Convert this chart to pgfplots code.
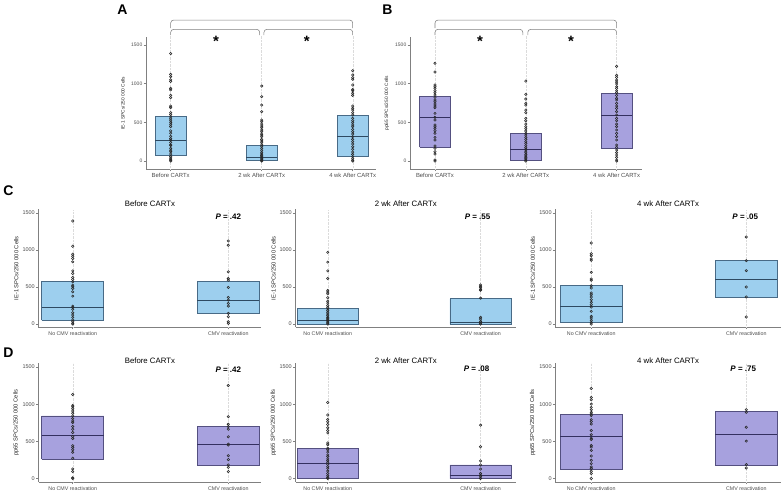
\documentclass[border=0pt]{standalone}
\usepackage{fontspec}
\setmainfont{Liberation Sans}
\usepackage{pgfplots}
\pgfplotsset{compat=1.18}

\definecolor{bfill}{RGB}{157,207,238}
\definecolor{bdraw}{RGB}{72,106,134}
\definecolor{bmed}{RGB}{46,74,98}
\definecolor{pfill}{RGB}{167,161,222}
\definecolor{pdraw}{RGB}{84,80,128}
\definecolor{pmed}{RGB}{52,48,96}
\definecolor{axgray}{RGB}{128,128,128}
\definecolor{ticktext}{RGB}{77,77,77}
\definecolor{ptcol}{RGB}{40,40,40}

\tikzset{guide/.style={densely dotted, gray!28, line width=0.4pt}}

\pgfplotsset{
  panel/.style={
    scale only axis, clip=false,
    axis lines*=left,
    axis line style={axgray, line width=0.7pt},
    tick align=outside, major tick length=2.5pt,
    tick style={axgray, line width=0.6pt},
    ytick={0,500,1000,1500},
    /pgf/number format/1000 sep={},
    /pgf/number format/assume math mode=true,
    every axis y label/.style={at={(axis description cs:-0.1,0.5)}, rotate=90, anchor=center},
  },
  toprow/.style={panel,
    width=#1, height=131.7pt, ymin=-103, ymax=1600,
    xtick={0,1,2},
    xticklabels={Before CARTx, 2 wk After CARTx, 4 wk After CARTx},
    yticklabel style={font=\fontsize{5}{6}\selectfont, text=ticktext, inner sep=1pt},
    xticklabel style={font=\fontsize{5.9}{7}\selectfont, text=ticktext, inner sep=1.5pt},
    ylabel style={font=\fontsize{4.8}{6}\selectfont, text=black!85},
  },
  subrow/.style={panel,
    xtick={0,1},
    xticklabels={No CMV reactivation, CMV reactivation},
    yticklabel style={font=\fontsize{5.5}{6.5}\selectfont, text=ticktext, inner sep=1pt},
    xticklabel style={font=\fontsize{5.3}{7}\selectfont, text=ticktext, inner sep=1.5pt},
    ylabel style={font=\fontsize{5.8}{7}\selectfont, text=black!85},
  },
  rowC/.style={subrow, height=117.5pt, ymin=-40, ymax=1547},
  rowD/.style={subrow, height=119pt, ymin=-47, ymax=1554},
  col1/.style={width=222.8pt, xmin=-0.22, xmax=1.212},
  col2/.style={width=220.5pt, xmin=-0.211, xmax=1.232},
  col3/.style={width=225.7pt, xmin=-0.232, xmax=1.224},
  bbox/.style={fill=bfill, draw=bdraw, line width=0.75pt, mark=none},
  bmedl/.style={draw=bmed, line width=0.9pt, mark=none},
  pbox/.style={fill=pfill, draw=pdraw, line width=0.75pt, mark=none},
  pmedl/.style={draw=pmed, line width=0.9pt, mark=none},
  pts/.style={only marks, mark=o, mark size=1.2pt, mark options={draw=ptcol, line width=0.55pt}},
}

\newcommand{\ptitle}{\fontsize{7.8}{9}\selectfont}
\newcommand{\pfont}{\fontsize{8}{9}\selectfont\bfseries}
\newcommand{\letterfont}{\fontsize{14}{14}\selectfont\bfseries}
\newcommand{\starfont}{\fontsize{15}{15}\selectfont\bfseries}

\begin{document}
\begin{tikzpicture}
\path[use as bounding box] (0,0) rectangle (782pt,492pt);

% ---------------- Panel A ----------------
\begin{axis}[toprow=230pt, at={(146pt,323pt)}, anchor=south west,
  xmin=-0.271, xmax=2.256, ylabel={IE-1 SPCs/250 000 Cells}]
\draw[guide] (axis cs:0,-103) -- (axis cs:0,1629);
\draw[guide] (axis cs:1,-103) -- (axis cs:1,1629);
\draw[guide] (axis cs:2,-103) -- (axis cs:2,1629);
\addplot[bbox] coordinates {(-0.17,75)(0.17,75)(0.17,580)(-0.17,580)(-0.17,75)};
\addplot[bmedl] coordinates {(-0.17,260)(0.17,260)};
\addplot[bbox] coordinates {(0.83,5)(1.17,5)(1.17,205)(0.83,205)(0.83,5)};
\addplot[bmedl] coordinates {(0.83,45)(1.17,45)};
\addplot[bbox] coordinates {(1.83,56)(2.17,56)(2.17,586)(1.83,586)(1.83,56)};
\addplot[bmedl] coordinates {(1.83,315)(2.17,315)};
\addplot[pts] coordinates {(0,1390)(0,1120)(0,1090)(0,1050)(0,1030)(0,940)(0,920)(0,850)(0,820)(0,710)(0,690)(0,625)(0,600)(0,570)(0,545)(0,520)(0,495)(0,470)(0,445)(0,390)(0,360)(0,320)(0,290)(0,270)(0,240)(0,210)(0,200)(0,165)(0,140)(0,120)(0,90)(0,60)(0,40)(0,25)(0,10)(0,0)};
\addplot[pts] coordinates {(1,970)(1,832)(1,724)(1,638)(1,530)(1,509)(1,478)(1,453)(1,431)(1,401)(1,379)(1,349)(1,336)(1,315)(1,280)(1,259)(1,237)(1,207)(1,185)(1,160)(1,134)(1,108)(1,90)(1,73)(1,56)(1,39)(1,26)(1,13)(1,4)(1,0)};
\addplot[pts] coordinates {(2,1168)(2,1112)(2,1077)(2,1056)(2,983)(2,926)(2,909)(2,875)(2,849)(2,711)(2,681)(2,659)(2,625)(2,595)(2,552)(2,521)(2,496)(2,466)(2,444)(2,409)(2,379)(2,349)(2,315)(2,280)(2,250)(2,220)(2,185)(2,151)(2,116)(2,86)(2,56)(2,30)(2,9)(2,0)};
\draw[axgray, line width=0.55pt, rounded corners=3pt] (axis cs:0,1720) |- (axis cs:2,1823) -- (axis cs:2,1720);
\draw[axgray, line width=0.55pt, rounded corners=3pt] (axis cs:0,1629) |- (axis cs:0.978,1703) -- (axis cs:0.978,1629);
\draw[axgray, line width=0.55pt, rounded corners=3pt] (axis cs:1.025,1629) |- (axis cs:2,1703) -- (axis cs:2,1629);
\node[anchor=base, inner sep=0pt, font=\starfont] at (axis cs:0.498,1480) {*};
\node[anchor=base, inner sep=0pt, font=\starfont] at (axis cs:1.495,1480) {*};
\end{axis}

% ---------------- Panel B ----------------
\begin{axis}[toprow=231.7pt, at={(410pt,323pt)}, anchor=south west,
  xmin=-0.275, xmax=2.276, ylabel={pp65 SPCs/250 000 Cells}]
\draw[guide] (axis cs:0,-103) -- (axis cs:0,1629);
\draw[guide] (axis cs:1,-103) -- (axis cs:1,1629);
\draw[guide] (axis cs:2,-103) -- (axis cs:2,1629);
\addplot[pbox] coordinates {(-0.17,181)(0.17,181)(0.17,832)(-0.17,832)(-0.17,181)};
\addplot[pmedl] coordinates {(-0.17,565)(0.17,565)};
\addplot[pbox] coordinates {(0.83,4)(1.17,4)(1.17,358)(0.83,358)(0.83,4)};
\addplot[pmedl] coordinates {(0.83,155)(1.17,155)};
\addplot[pbox] coordinates {(1.83,160)(2.17,160)(2.17,871)(1.83,871)(1.83,160)};
\addplot[pmedl] coordinates {(1.83,590)(2.17,590)};
\addplot[pts] coordinates {(0,1263)(0,1151)(0,983)(0,961)(0,940)(0,909)(0,884)(0,853)(0,823)(0,789)(0,767)(0,737)(0,711)(0,690)(0,616)(0,565)(0,530)(0,466)(0,444)(0,422)(0,392)(0,358)(0,306)(0,272)(0,194)(0,164)(0,121)(0,90)(0,13)(0,0)};
\addplot[pts] coordinates {(1,1034)(1,862)(1,802)(1,746)(1,724)(1,659)(1,625)(1,552)(1,521)(1,478)(1,444)(1,418)(1,388)(1,358)(1,336)(1,306)(1,280)(1,250)(1,228)(1,198)(1,172)(1,151)(1,129)(1,108)(1,86)(1,65)(1,47)(1,30)(1,13)(1,0)};
\addplot[pts] coordinates {(2,1224)(2,1108)(2,1082)(2,1047)(2,1021)(2,996)(2,961)(2,940)(2,909)(2,884)(2,849)(2,810)(2,789)(2,746)(2,711)(2,681)(2,638)(2,595)(2,552)(2,521)(2,478)(2,444)(2,401)(2,358)(2,315)(2,272)(2,207)(2,177)(2,142)(2,108)(2,78)(2,47)(2,13)(2,0)};
\draw[axgray, line width=0.55pt, rounded corners=3pt] (axis cs:0,1720) |- (axis cs:2,1823) -- (axis cs:2,1720);
\draw[axgray, line width=0.55pt, rounded corners=3pt] (axis cs:0,1629) |- (axis cs:0.967,1703) -- (axis cs:0.967,1629);
\draw[axgray, line width=0.55pt, rounded corners=3pt] (axis cs:1.022,1629) |- (axis cs:2,1703) -- (axis cs:2,1629);
\node[anchor=base, inner sep=0pt, font=\starfont] at (axis cs:0.495,1480) {*};
\node[anchor=base, inner sep=0pt, font=\starfont] at (axis cs:1.497,1480) {*};
\end{axis}

% ---------------- Panel C1 ----------------
\begin{axis}[rowC, col1, at={(38.5pt,165pt)}, anchor=south west, ylabel={IE-1 SPCs/250 000 Cells}]
\draw[guide] (axis cs:0,-40) -- (axis cs:0,1547);
\draw[guide] (axis cs:1,-40) -- (axis cs:1,1547);
\addplot[bbox] coordinates {(-0.2,49)(0.2,49)(0.2,575)(-0.2,575)(-0.2,49)};
\addplot[bmedl] coordinates {(-0.2,229)(0.2,229)};
\addplot[bbox] coordinates {(0.8,144)(1.2,144)(1.2,575)(0.8,575)(0.8,144)};
\addplot[bmedl] coordinates {(0.8,319)(1.2,319)};
\addplot[pts] coordinates {(0,1392)(0,1051)(0,943)(0,916)(0,885)(0,840)(0,718)(0,682)(0,629)(0,602)(0,570)(0,525)(0,503)(0,480)(0,435)(0,377)(0,242)(0,224)(0,198)(0,153)(0,121)(0,90)(0,54)(0,31)(0,9)(0,0)};
\addplot[pts] coordinates {(1,1122)(1,1064)(1,705)(1,615)(1,593)(1,494)(1,359)(1,323)(1,278)(1,242)(1,144)(1,99)(1,31)(1,9)};
\node[font=\ptitle] at (rel axis cs:0.5,1) [yshift=5.5pt] {Before CARTx};
\node[font=\pfont] at (axis cs:1,1450) {\textit{P} = .42};
\end{axis}

% ---------------- Panel C2 ----------------
\begin{axis}[rowC, col2, at={(295.5pt,165pt)}, anchor=south west, ylabel={IE-1 SPCs/250 000 Cells}]
\draw[guide] (axis cs:0,-40) -- (axis cs:0,1547);
\draw[guide] (axis cs:1,-40) -- (axis cs:1,1547);
\addplot[bbox] coordinates {(-0.2,0)(0.2,0)(0.2,205)(-0.2,205)(-0.2,0)};
\addplot[bmedl] coordinates {(-0.2,55)(0.2,55)};
\addplot[bbox] coordinates {(0.8,0)(1.2,0)(1.2,341)(0.8,341)(0.8,0)};
\addplot[bmedl] coordinates {(0.8,27)(1.2,27)};
\addplot[pts] coordinates {(0,968)(0,836)(0,718)(0,614)(0,455)(0,432)(0,409)(0,355)(0,309)(0,282)(0,250)(0,227)(0,205)(0,182)(0,159)(0,136)(0,114)(0,91)(0,77)(0,59)(0,45)(0,27)(0,14)(0,0)};
\addplot[pts] coordinates {(1,527)(1,509)(1,491)(1,468)(1,455)(1,350)(1,91)(1,68)(1,36)(1,14)(1,0)};
\node[font=\ptitle] at (rel axis cs:0.5,1) [yshift=5.5pt] {2 wk After CARTx};
\node[font=\pfont, xshift=-3pt] at (axis cs:1,1450) {\textit{P} = .55};
\end{axis}

% ---------------- Panel C3 ----------------
\begin{axis}[rowC, col3, at={(555.3pt,165pt)}, anchor=south west, ylabel={IE-1 SPCs/250 000 Cells}]
\draw[guide] (axis cs:0,-40) -- (axis cs:0,1547);
\draw[guide] (axis cs:1,-40) -- (axis cs:1,1547);
\addplot[bbox] coordinates {(-0.2,23)(0.2,23)(0.2,518)(-0.2,518)(-0.2,23)};
\addplot[bmedl] coordinates {(-0.2,234)(0.2,234)};
\addplot[bbox] coordinates {(0.8,365)(1.2,365)(1.2,856)(0.8,856)(0.8,365)};
\addplot[bmedl] coordinates {(0.8,608)(1.2,608)};
\addplot[pts] coordinates {(0,1095)(0,950)(0,923)(0,878)(0,860)(0,698)(0,608)(0,590)(0,518)(0,487)(0,419)(0,396)(0,365)(0,329)(0,293)(0,261)(0,230)(0,171)(0,104)(0,81)(0,50)(0,23)(0,0)};
\addplot[pts] coordinates {(1,1176)(1,856)(1,721)(1,500)(1,365)(1,95)};
\node[font=\ptitle] at (rel axis cs:0.5,1) [yshift=5.5pt] {4 wk After CARTx};
\node[font=\pfont, xshift=-1pt] at (axis cs:1,1450) {\textit{P} = .05};
\end{axis}

% ---------------- Panel D1 ----------------
\begin{axis}[rowD, col1, at={(38.5pt,10pt)}, anchor=south west, ylabel={pp65 SPCs/250 000 Cells}]
\draw[guide] (axis cs:0,-47) -- (axis cs:0,1554);
\draw[guide] (axis cs:1,-47) -- (axis cs:1,1554);
\addplot[pbox] coordinates {(-0.2,263)(0.2,263)(0.2,841)(-0.2,841)(-0.2,263)};
\addplot[pmedl] coordinates {(-0.2,583)(0.2,583)};
\addplot[pbox] coordinates {(0.8,174)(1.2,174)(1.2,699)(0.8,699)(0.8,174)};
\addplot[pmedl] coordinates {(0.8,463)(1.2,463)};
\addplot[pts] coordinates {(0,1131)(0,984)(0,966)(0,939)(0,908)(0,877)(0,841)(0,806)(0,774)(0,752)(0,699)(0,663)(0,619)(0,565)(0,539)(0,441)(0,418)(0,387)(0,352)(0,272)(0,129)(0,93)(0,9)(0,0)};
\addplot[pts] coordinates {(1,1251)(1,832)(1,730)(1,699)(1,663)(1,561)(1,463)(1,450)(1,307)(1,254)(1,182)(1,151)(1,93)};
\node[font=\ptitle] at (rel axis cs:0.5,1) [yshift=2.5pt] {Before CARTx};
\node[font=\pfont] at (axis cs:1,1470) {\textit{P} = .42};
\end{axis}

% ---------------- Panel D2 ----------------
\begin{axis}[rowD, col2, at={(295.5pt,10pt)}, anchor=south west, ylabel={pp65 SPCs/250 000 Cells}]
\draw[guide] (axis cs:0,-47) -- (axis cs:0,1554);
\draw[guide] (axis cs:1,-47) -- (axis cs:1,1554);
\addplot[pbox] coordinates {(-0.2,0)(0.2,0)(0.2,400)(-0.2,400)(-0.2,0)};
\addplot[pmedl] coordinates {(-0.2,200)(0.2,200)};
\addplot[pbox] coordinates {(0.8,0)(1.2,0)(1.2,182)(0.8,182)(0.8,0)};
\addplot[pmedl] coordinates {(0.8,45)(1.2,45)};
\addplot[pts] coordinates {(0,1023)(0,855)(0,795)(0,764)(0,727)(0,682)(0,645)(0,614)(0,477)(0,455)(0,409)(0,386)(0,355)(0,318)(0,295)(0,264)(0,241)(0,218)(0,191)(0,159)(0,136)(0,100)(0,68)(0,36)(0,14)(0,0)};
\addplot[pts] coordinates {(1,718)(1,427)(1,236)(1,182)(1,127)(1,68)(1,45)(1,23)(1,0)};
\node[font=\ptitle] at (rel axis cs:0.5,1) [yshift=2.5pt] {2 wk After CARTx};
\node[font=\pfont, xshift=-4pt] at (axis cs:1,1470) {\textit{P} = .08};
\end{axis}

% ---------------- Panel D3 ----------------
\begin{axis}[rowD, col3, at={(555.3pt,10pt)}, anchor=south west, ylabel={pp65 SPCs/250 000 Cells}]
\draw[guide] (axis cs:0,-47) -- (axis cs:0,1554);
\draw[guide] (axis cs:1,-47) -- (axis cs:1,1554);
\addplot[pbox] coordinates {(-0.2,125)(0.2,125)(0.2,864)(-0.2,864)(-0.2,125)};
\addplot[pmedl] coordinates {(-0.2,565)(0.2,565)};
\addplot[pbox] coordinates {(0.8,174)(1.2,174)(1.2,899)(0.8,899)(0.8,174)};
\addplot[pmedl] coordinates {(0.8,592)(1.2,592)};
\addplot[pts] coordinates {(0,1211)(0,1091)(0,1059)(0,1001)(0,957)(0,926)(0,890)(0,868)(0,846)(0,792)(0,766)(0,734)(0,645)(0,588)(0,543)(0,525)(0,445)(0,423)(0,378)(0,303)(0,245)(0,200)(0,156)(0,134)(0,98)(0,67)(0,0)};
\addplot[pts] coordinates {(1,926)(1,890)(1,690)(1,503)(1,187)(1,142)};
\node[font=\ptitle] at (rel axis cs:0.5,1) [yshift=2.5pt] {4 wk After CARTx};
\node[font=\pfont, xshift=-3pt] at (axis cs:1,1470) {\textit{P} = .75};
\end{axis}

% ---------------- Panel letters ----------------
\node[font=\letterfont] at (122.5pt,482pt) {A};
\node[font=\letterfont] at (387.5pt,482pt) {B};
\node[font=\letterfont] at (8.5pt,301pt) {C};
\node[font=\letterfont] at (8.5pt,139.5pt) {D};
\end{tikzpicture}
\end{document}
